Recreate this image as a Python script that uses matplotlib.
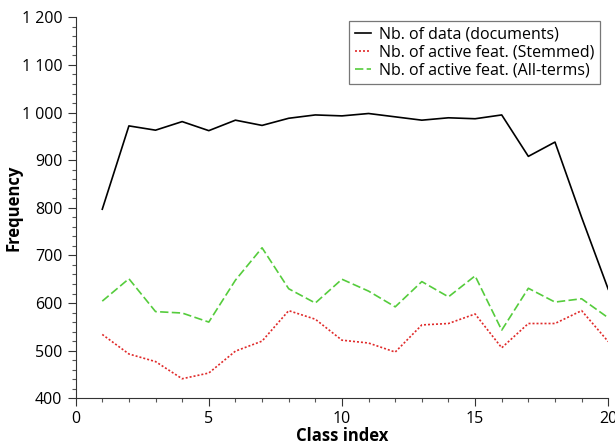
import matplotlib
matplotlib.use("Agg")
import matplotlib.pyplot as plt
from matplotlib.ticker import MultipleLocator, FuncFormatter

plt.rcParams['font.family'] = ['Open Sans', 'DejaVu Sans']

classes = list(range(1, 21))
n_docs = [797, 972, 963, 981, 962, 984, 973, 988, 995, 993,
          998, 991, 984, 989, 987, 995, 908, 938, 780, 629]
n_stemmed = [534, 493, 477, 441, 453, 499, 520, 584, 566, 522,
             516, 497, 554, 557, 577, 506, 557, 557, 584, 519]
n_allterms = [604, 651, 582, 579, 560, 648, 716, 630, 600, 650,
              625, 592, 645, 613, 657, 543, 631, 602, 609, 569]

fig = plt.figure(figsize=(6.15, 4.44), dpi=100)
ax = fig.add_axes([0.123, 0.103, 0.866, 0.858])

ax.plot(classes, n_docs, color='black', lw=1.2, label='Nb. of data (documents)')
ax.plot(classes, n_stemmed, color='#e02a2a', lw=1.2, ls=(0, (1.2, 1.2)),
        label='Nb. of active feat. (Stemmed)')
ax.plot(classes, n_allterms, color='#55cc3c', lw=1.2, ls=(0, (5, 2)),
        label='Nb. of active feat. (All-terms)')

ax.set_xlim(0, 20)
ax.set_ylim(400, 1200)
ax.xaxis.set_major_locator(MultipleLocator(5))
ax.xaxis.set_minor_locator(MultipleLocator(1))
ax.yaxis.set_major_locator(MultipleLocator(100))
ax.yaxis.set_minor_locator(MultipleLocator(20))
ax.yaxis.set_major_formatter(FuncFormatter(lambda v, p: f"{int(v):,}".replace(",", " ")))

for s in ['top', 'right']:
    ax.spines[s].set_visible(False)
for s in ['left', 'bottom']:
    ax.spines[s].set_color('#333333')
ax.tick_params(which='major', length=6, width=0.8, color='#333333', labelsize=11.5)
ax.tick_params(which='minor', length=3, width=0.8, color='#555555')

ax.set_xlabel('Class index', fontweight='bold', fontsize=12)
ax.set_ylabel('Frequency', fontweight='bold', fontsize=12)
ax.xaxis.set_label_coords(0.5, -0.075)
ax.yaxis.set_label_coords(-0.100, 0.5)

leg = ax.legend(loc='upper right', bbox_to_anchor=(0.99, 1.0), fontsize=11.5,
                frameon=True, fancybox=False, handlelength=1.0, handletextpad=0.5,
                borderpad=0.35, labelspacing=0.15, borderaxespad=0.2)
leg.get_frame().set_edgecolor('#555555')
leg.get_frame().set_linewidth(0.9)

fig.savefig('out.png', dpi=100)
